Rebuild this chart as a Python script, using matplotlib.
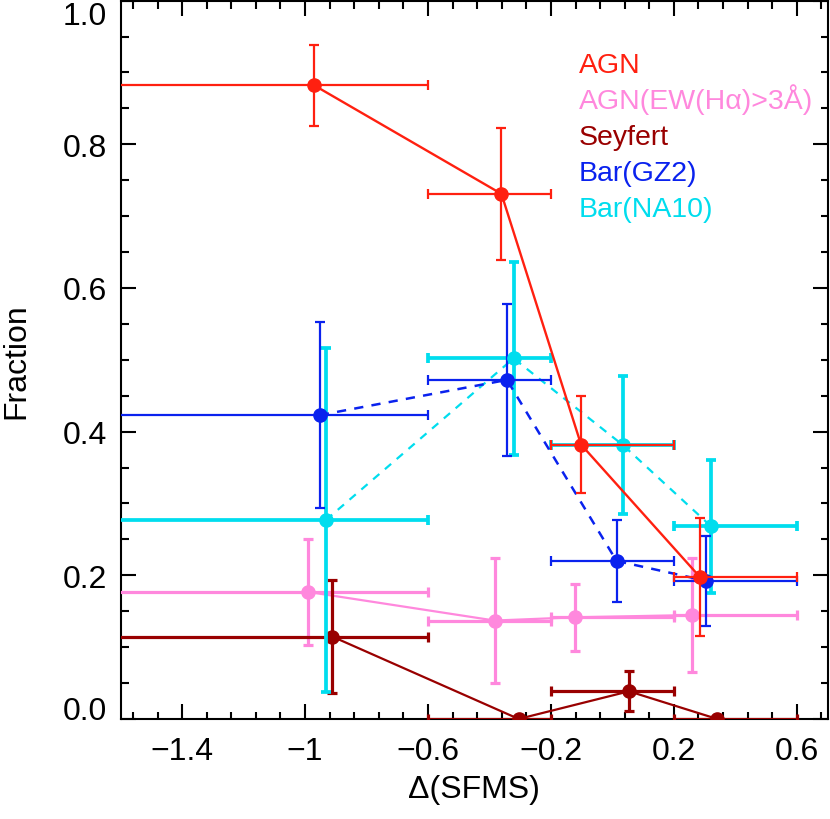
import numpy as np
import matplotlib
matplotlib.use('Agg')
import matplotlib.pyplot as plt
from matplotlib.ticker import MultipleLocator, FixedLocator

plt.rcParams['font.family'] = ['Liberation Sans', 'DejaVu Sans']

# bin edges in Delta(SFMS) (first bin open to the left)
bin_lo = np.array([-2.0, -0.6, -0.2, 0.2])
bin_hi = np.array([-0.6, -0.2, 0.2, 0.6])

# AGN
agn_x = np.array([-0.970, -0.361, -0.102, 0.284])
agn_y = np.array([0.882, 0.731, 0.382, 0.198])
agn_err = np.array([0.056, 0.092, 0.067, 0.082])

# AGN(EW(Ha)>3A)
ew_x = np.array([-0.992, -0.383, -0.121, 0.260])
ew_y = np.array([0.177, 0.137, 0.1415, 0.1447])
ew_err = np.array([0.074, 0.087, 0.047, 0.079])

# Seyfert
sey_x = np.array([-0.911, -0.305, 0.054, 0.341])
sey_y = np.array([0.1146, 0.0, 0.0385, 0.0])
sey_err = np.array([0.079, 0.0, 0.028, 0.0])

# Bar(GZ2)
gz2_x = np.array([-0.952, -0.343, 0.0135, 0.303])
gz2_y = np.array([0.423, 0.472, 0.220, 0.1925])
gz2_err = np.array([0.129, 0.106, 0.057, 0.0625])

# Bar(NA10)
na10_x = np.array([-0.932, -0.3215, 0.035, 0.3215])
na10_y = np.array([0.277, 0.502, 0.381, 0.268])
na10_err = np.array([0.239, 0.134, 0.096, 0.093])

labels = ['AGN', 'AGN(EW(H\u03b1)>3\u00c5)', 'Seyfert', 'Bar(GZ2)', 'Bar(NA10)']
colors = ['#ff2010', '#ff88dd', '#990000', '#0a22ee', '#00ddee']

xticks = [-1.4, -1.0, -0.6, -0.2, 0.2, 0.6]
xticklabels = ['\u22121.4', '\u22121', '\u22120.6', '\u22120.2', '0.2', '0.6']
yticks = [0.0, 0.2, 0.4, 0.6, 0.8, 1.0]
yticklabels = ['0.0', '0.2', '0.4', '0.6', '0.8', '1.0']

fig = plt.figure(figsize=(8.3, 8.2), dpi=100)
ax = fig.add_axes([0.1454, 0.122, 0.8516, 0.876])

FS = 23
LFS = 20.5


def series(x, y, err, color, ls, elw, llw, z):
    xerr = [x - bin_lo, bin_hi - x]
    ax.errorbar(x, y, yerr=err, xerr=xerr, fmt='o', color=color, ms=9.5,
                elinewidth=elw, capsize=3.6, capthick=elw, zorder=z)
    if ls == 'dashed':
        ax.plot(x, y, color=color, lw=llw, dashes=(3.7, 3.3), zorder=z)
    else:
        ax.plot(x, y, color=color, lw=llw, zorder=z)


series(ew_x, ew_y, ew_err, colors[1], 'solid', 2.3, 1.6, 3)
series(sey_x, sey_y, sey_err, colors[2], 'solid', 2.3, 1.6, 3.1)
series(na10_x, na10_y, na10_err, colors[4], 'dashed', 2.7, 1.6, 3.2)
series(gz2_x, gz2_y, gz2_err, colors[3], 'dashed', 1.6, 1.8, 3.3)
series(agn_x, agn_y, agn_err, colors[0], 'solid', 1.6, 1.7, 3.4)

# colour-coded legend text
for i, (lab, c) in enumerate(zip(labels, colors)):
    ax.text(-0.11, 0.90 - 0.05 * i, lab, color=c, fontsize=LFS,
            ha='left', va='baseline')

ax.set_xlim(-1.6, 0.7)
ax.set_ylim(0.0, 1.0)
ax.xaxis.set_major_locator(FixedLocator(xticks))
ax.set_xticklabels(xticklabels)
ax.xaxis.set_minor_locator(MultipleLocator(0.08, offset=0.04))
ax.yaxis.set_major_locator(FixedLocator(yticks))
ax.set_yticklabels(yticklabels)
ax.yaxis.set_minor_locator(MultipleLocator(0.05))

ax.tick_params(which='both', direction='in', top=True, right=True,
               width=1.5, labelsize=FS)
ax.tick_params(which='major', length=10.8)
ax.tick_params(which='minor', length=5.4)
ax.tick_params(axis='y', pad=10)
ax.tick_params(axis='x', pad=12)
for s in ax.spines.values():
    s.set_linewidth(1.5)

# keep the end labels of the y axis inside the figure
ylabs = ax.get_yticklabels()
ylabs[-1].set_va('top')
ylabs[0].set_va('baseline')

ax.set_xlabel('\u0394(SFMS)', fontsize=FS, labelpad=6)
ax.set_ylabel('Fraction', fontsize=FS, labelpad=22)

fig.savefig('out.png', dpi=100)
